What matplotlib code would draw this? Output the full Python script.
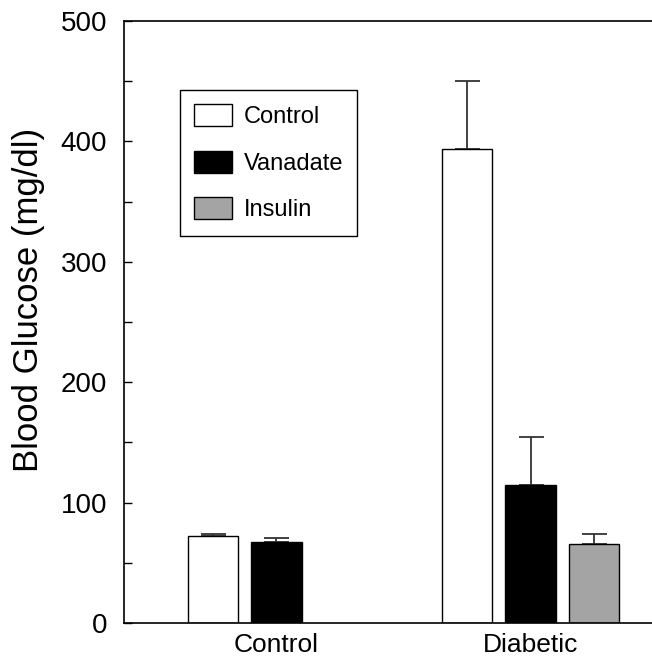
"""
Blood glucose bar chart: control vs diabetic groups by treatment
"""

import matplotlib
matplotlib.use('Agg')
import matplotlib.pyplot as plt
import numpy as np

# Data
groups = ['Control', 'Diabetic']
treatments = ['Control', 'Vanadate', 'Insulin']
control_mean = [72.5, 393.5]
control_err = [1.5, 56.5]
vanadate_mean = [67.0, 114.5]
vanadate_err = [4.0, 40.0]
# insulin was only given to the diabetic group
insulin_mean = [np.nan, 65.5]
insulin_err = [np.nan, 8.5]

y_ticks = [0, 100, 200, 300, 400, 500]

plt.rcParams['font.family'] = ['Liberation Sans', 'DejaVu Sans']

fig = plt.figure(figsize=(6.52, 6.61), dpi=100)
ax = fig.add_axes([124 / 652, 1 - 623 / 661, 1 - 124 / 652, (623 - 21) / 661])

x = np.arange(len(groups))
step = 0.25
width = 0.2
series = [
    (control_mean, control_err, 'white'),
    (vanadate_mean, vanadate_err, 'black'),
    (insulin_mean, insulin_err, '#a4a4a4'),
]

for i, (means, errs, color) in enumerate(series):
    pos = x + (i - 1) * step
    means = np.array(means, dtype=float)
    errs = np.array(errs, dtype=float)
    ok = ~np.isnan(means)
    ax.bar(pos[ok], means[ok], width, color=color, edgecolor='black',
           linewidth=1.0, label=treatments[i], zorder=2)
    ax.errorbar(pos[ok], means[ok], yerr=[np.zeros(ok.sum()), errs[ok]],
                fmt='none', ecolor='#333333', elinewidth=1.3, capsize=9,
                capthick=1.3, zorder=1)

ax.set_xlim(-0.6, 1.478)
ax.set_ylim(0, 500)
ax.set_xticks(x)
ax.set_xticklabels(groups, fontsize=19)
ax.tick_params(axis='x', length=0, pad=7)
ax.set_yticks(y_ticks)
ax.set_yticks(np.arange(50, 500, 100), minor=True)
ax.tick_params(axis='y', which='both', direction='in', length=6,
               width=1.0, labelsize=20, pad=12)
ax.set_ylabel('Blood Glucose (mg/dl)', fontsize=25)
ax.yaxis.set_label_coords(-0.15, 0.536)

ax.spines['right'].set_visible(False)
for side in ['left', 'top', 'bottom']:
    ax.spines[side].set_linewidth(1.2)

ax.legend(loc='upper left', bbox_to_anchor=(0.106, 0.885), fontsize=17,
          frameon=True, fancybox=False, edgecolor='black', framealpha=1,
          handlelength=1.6, handleheight=1.06, handletextpad=0.5,
          labelspacing=0.95, borderpad=0.6, borderaxespad=0)
ax.get_legend().get_frame().set_linewidth(1.0)

plt.savefig('out.png', dpi=100)
